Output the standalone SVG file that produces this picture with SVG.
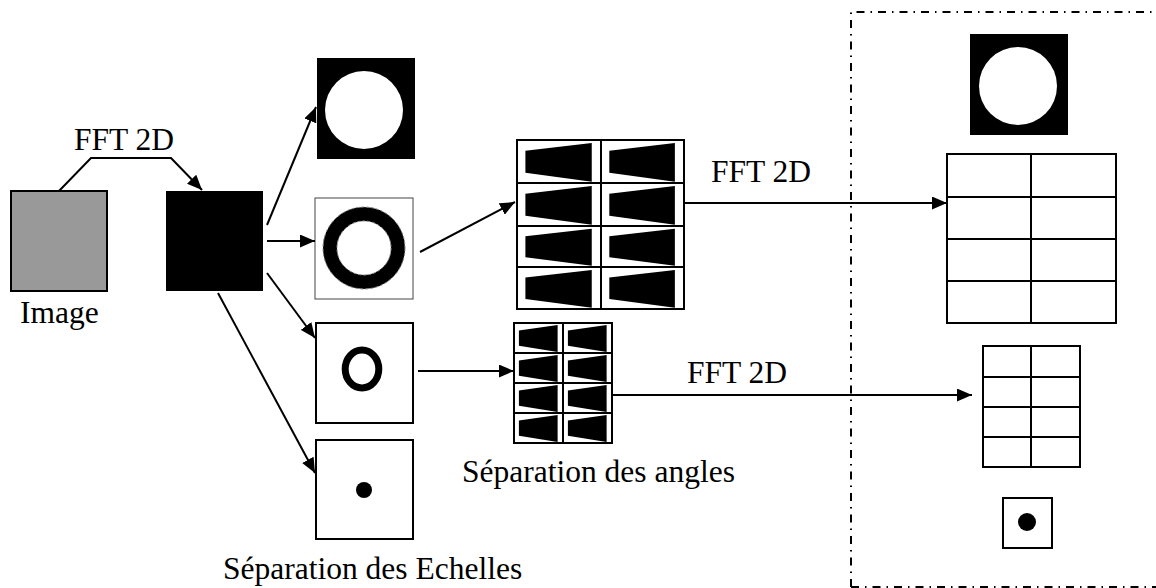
<svg xmlns="http://www.w3.org/2000/svg" xmlns:xlink="http://www.w3.org/1999/xlink" width="1156" height="588" viewBox="0 0 1156 588">
  <style>
    .lbl { font-family: "Liberation Serif", "Times New Roman", serif; font-size: 31.5px; fill: #000; }
    .conn { stroke: #000; stroke-width: 2; fill: none; marker-end: url(#arrow); }
    .box { fill: #fff; stroke: #000; stroke-width: 2; }
    .grid { fill: none; stroke: #000; stroke-width: 2; }
  </style>
  <defs>
    <marker id="arrow" viewBox="0 0 15 13" refX="15" refY="6.5" markerWidth="15" markerHeight="13" markerUnits="userSpaceOnUse" orient="auto">
      <path d="M0,0 L15,6.5 L0,13 z" fill="#000"/>
    </marker>
    <symbol id="wedge" viewBox="0 0 100 100" preserveAspectRatio="none">
      <polygon points="10,25 89,7 89,97 10,76" fill="#000"/>
    </symbol>
  </defs>
  <rect width="1156" height="588" fill="#fff"/>

  <g id="dashed-region">
    <path d="M851,587 L851,12 L1170,12 M851,587 L1170,587" fill="none" stroke="#000" stroke-width="2" stroke-dasharray="8 6 1.5 6"/>
  </g>

  <g id="image">
    <rect x="11" y="191" width="96" height="100" fill="#999" stroke="#000" stroke-width="2"/>
    <text class="lbl" x="20" y="323">Image</text>
  </g>

  <g id="spectrum">
    <rect x="166" y="191" width="97" height="100" fill="#000"/>
  </g>

  <g id="lowpass">
    <rect x="317" y="58" width="98" height="101" fill="#000"/>
    <circle cx="364" cy="110" r="39" fill="#fff"/>
  </g>

  <g id="band1">
    <rect x="315" y="198" width="98" height="101" fill="#fff" stroke="#444" stroke-width="1"/>
    <circle cx="364" cy="248" r="34" fill="none" stroke="#000" stroke-width="14"/>
    <circle cx="364" cy="248" r="41" fill="none" stroke="#888" stroke-width="1" stroke-dasharray="3 2"/>
    <circle cx="364" cy="248" r="27" fill="none" stroke="#999" stroke-width="1" stroke-dasharray="3 2"/>
  </g>

  <g id="band2">
    <rect class="box" x="316" y="323" width="97" height="100"/>
    <ellipse cx="362" cy="369" rx="16.8" ry="19" fill="none" stroke="#000" stroke-width="7"/>
  </g>

  <g id="band3">
    <rect class="box" x="316" y="440" width="97" height="99"/>
    <circle cx="364" cy="490" r="8" fill="#000"/>
  </g>

  <g id="angles-large">
    <use xlink:href="#wedge" x="517" y="140" width="84" height="43"/>
    <use xlink:href="#wedge" x="601" y="140" width="83" height="43"/>
    <use xlink:href="#wedge" x="517" y="183" width="84" height="43"/>
    <use xlink:href="#wedge" x="601" y="183" width="83" height="43"/>
    <use xlink:href="#wedge" x="517" y="226" width="84" height="41"/>
    <use xlink:href="#wedge" x="601" y="226" width="83" height="41"/>
    <use xlink:href="#wedge" x="517" y="267" width="84" height="42"/>
    <use xlink:href="#wedge" x="601" y="267" width="83" height="42"/>
    <path class="grid" d="M517,140 H684 V309 H517 Z M601,140 V309 M517,183 H684 M517,226 H684 M517,267 H684"/>
  </g>

  <g id="angles-small">
    <use xlink:href="#wedge" x="514" y="323" width="49" height="30"/>
    <use xlink:href="#wedge" x="563" y="323" width="49" height="30"/>
    <use xlink:href="#wedge" x="514" y="353" width="49" height="30"/>
    <use xlink:href="#wedge" x="563" y="353" width="49" height="30"/>
    <use xlink:href="#wedge" x="514" y="383" width="49" height="30"/>
    <use xlink:href="#wedge" x="563" y="383" width="49" height="30"/>
    <use xlink:href="#wedge" x="514" y="413" width="49" height="30"/>
    <use xlink:href="#wedge" x="563" y="413" width="49" height="30"/>
    <path class="grid" d="M514,323 H612 V443 H514 Z M563,323 V443 M514,353 H612 M514,383 H612 M514,413 H612"/>
    <text class="lbl" x="462" y="482">Séparation des angles</text>
  </g>

  <g id="scales-label">
    <text class="lbl" x="223" y="579">Séparation des Echelles</text>
  </g>

  <g id="out-lowpass">
    <rect x="970" y="34" width="98" height="101" fill="#000"/>
    <circle cx="1018" cy="86" r="39" fill="#fff"/>
  </g>

  <g id="out-grid-large">
    <path class="grid" d="M947,154 H1116 V323 H947 Z M1031,154 V323 M947,197 H1116 M947,239 H1116 M947,281 H1116"/>
  </g>

  <g id="out-grid-small">
    <path class="grid" d="M983,346 H1080 V467 H983 Z M1031,346 V467 M983,377 H1080 M983,407 H1080 M983,437 H1080"/>
  </g>

  <g id="out-dot">
    <rect class="box" x="1003" y="498" width="49" height="50"/>
    <circle cx="1027" cy="522" r="9" fill="#000"/>
  </g>

  <g id="connectors">
    <polyline class="conn" points="59,191 91,158 171,158 202,190"/>
    <line class="conn" x1="267" y1="225" x2="316" y2="107"/>
    <line class="conn" x1="267" y1="241" x2="315" y2="241"/>
    <line class="conn" x1="267" y1="273" x2="315" y2="338"/>
    <line class="conn" x1="218" y1="293" x2="315" y2="473"/>
    <line class="conn" x1="420" y1="252" x2="515" y2="202"/>
    <line class="conn" x1="418" y1="371" x2="514" y2="371"/>
    <line class="conn" x1="684" y1="203" x2="947" y2="203"/>
    <line class="conn" x1="612" y1="395" x2="972" y2="395"/>
    <text class="lbl" x="74" y="150">FFT 2D</text>
    <text class="lbl" x="711" y="182">FFT 2D</text>
    <text class="lbl" x="687" y="383">FFT 2D</text>
  </g>
</svg>
